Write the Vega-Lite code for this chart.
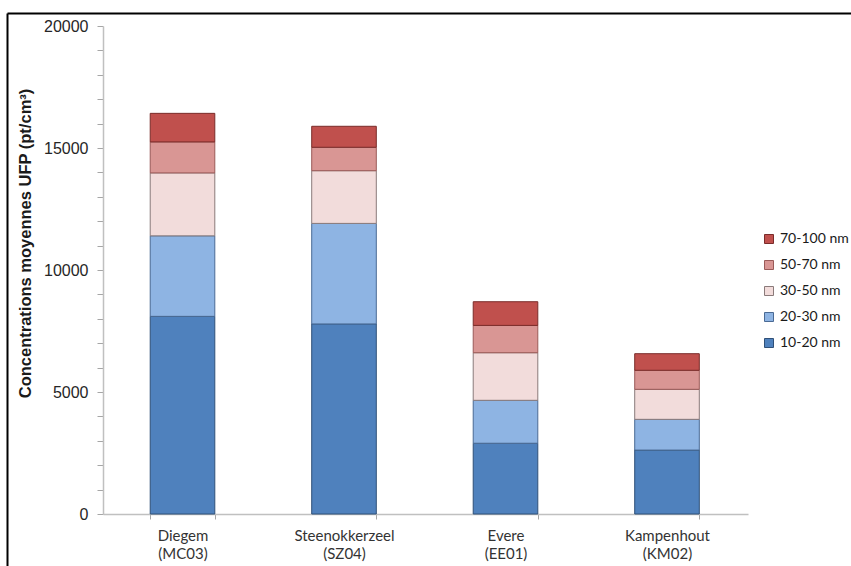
{
  "$schema": "https://vega.github.io/schema/vega-lite/v6.json",
  "width": 844,
  "height": 553,
  "autosize": {"type": "none"},
  "padding": {"left": 7, "top": 13, "right": 0, "bottom": 0},
  "background": "white",
  "config": {
    "view": {"stroke": null},
    "axis": {"grid": false}
  },
  "data": {
    "values": [
      {"site": "Diegem (MC03)", "size": "10-20 nm", "value": 8100},
      {"site": "Diegem (MC03)", "size": "20-30 nm", "value": 3300},
      {"site": "Diegem (MC03)", "size": "30-50 nm", "value": 2580},
      {"site": "Diegem (MC03)", "size": "50-70 nm", "value": 1270},
      {"site": "Diegem (MC03)", "size": "70-100 nm", "value": 1170},
      {"site": "Steenokkerzeel (SZ04)", "size": "10-20 nm", "value": 7790},
      {"site": "Steenokkerzeel (SZ04)", "size": "20-30 nm", "value": 4120},
      {"site": "Steenokkerzeel (SZ04)", "size": "30-50 nm", "value": 2160},
      {"site": "Steenokkerzeel (SZ04)", "size": "50-70 nm", "value": 960},
      {"site": "Steenokkerzeel (SZ04)", "size": "70-100 nm", "value": 860},
      {"site": "Evere (EE01)", "size": "10-20 nm", "value": 2900},
      {"site": "Evere (EE01)", "size": "20-30 nm", "value": 1760},
      {"site": "Evere (EE01)", "size": "30-50 nm", "value": 1950},
      {"site": "Evere (EE01)", "size": "50-70 nm", "value": 1120},
      {"site": "Evere (EE01)", "size": "70-100 nm", "value": 970},
      {"site": "Kampenhout (KM02)", "size": "10-20 nm", "value": 2620},
      {"site": "Kampenhout (KM02)", "size": "20-30 nm", "value": 1260},
      {"site": "Kampenhout (KM02)", "size": "30-50 nm", "value": 1230},
      {"site": "Kampenhout (KM02)", "size": "50-70 nm", "value": 780},
      {"site": "Kampenhout (KM02)", "size": "70-100 nm", "value": 680}
    ]
  },
  "resolve": {"axis": {"x": "independent", "y": "independent"}},
  "layer": [
    {
      "mark": {"type": "bar", "strokeWidth": 1},
      "encoding": {
        "x": {
          "field": "site",
          "type": "nominal",
          "sort": null,
          "scale": {"paddingInner": 0.6, "paddingOuter": 0.913, "align": 0.4856, "round": false},
          "axis": {
            "orient": "bottom",
            "offset": -52,
            "title": null,
            "labelAngle": 0,
            "labelExpr": "split(datum.label, ' ')",
            "labelFont": "Lato",
            "labelFontSize": 15,
            "labelLineHeight": 18,
            "labelColor": "#333333",
            "labelPadding": 9,
            "tickBand": "extent",
            "tickSize": 5,
            "tickColor": "#a6a6a6",
            "domainColor": "#c0c0c0",
            "domainWidth": 1.5,
            "domainDash": [645, 2000],
            "domainDashOffset": 2549
          }
        },
        "y": {
          "field": "value",
          "type": "quantitative",
          "stack": "zero",
          "scale": {"domain": [-2131, 20533], "nice": false, "zero": false},
          "axis": {
            "orient": "left",
            "offset": -96,
            "values": [0, 1000, 2000, 3000, 4000, 5000, 6000, 7000, 8000, 9000, 10000, 11000, 12000, 13000, 14000, 15000, 16000, 17000, 18000, 19000, 20000],
            "format": "d",
            "labelExpr": "datum.value % 5000 === 0 ? datum.label : ''",
            "labelFont": "Liberation Sans",
            "labelFontSize": 16,
            "labelColor": "#262626",
            "labelPadding": 9,
            "tickSize": 6,
            "tickColor": "#a6a6a6",
            "domainColor": "#c0c0c0",
            "domainWidth": 1.5,
            "domainDash": [488, 2000],
            "domainDashOffset": 2436,
            "title": "Concentrations moyennes UFP (pt/cm³)",
            "titleFont": "Liberation Sans",
            "titleFontSize": 16.5,
            "titleFontWeight": "bold",
            "titleColor": "#1a1a1a",
            "titleAngle": 270,
            "titleAlign": "center",
            "titleBaseline": "middle",
            "titleX": -77.5,
            "titleY": 230
          }
        },
        "color": {
          "field": "size",
          "type": "nominal",
          "sort": ["10-20 nm", "20-30 nm", "30-50 nm", "50-70 nm", "70-100 nm"],
          "scale": {
            "domain": ["10-20 nm", "20-30 nm", "30-50 nm", "50-70 nm", "70-100 nm"],
            "range": ["#4f81bd", "#8eb4e3", "#f2dcdb", "#d99694", "#c0504d"]
          },
          "legend": {
            "orient": "none",
            "legendX": 755,
            "legendY": 219,
            "title": null,
            "values": ["70-100 nm", "50-70 nm", "30-50 nm", "20-30 nm", "10-20 nm"],
            "symbolType": "square",
            "symbolSize": 81,
            "symbolStrokeColor": "#5a5a5a",
            "symbolStrokeWidth": 1,
            "labelFont": "Lato",
            "labelFontSize": 14,
            "labelColor": "#1a1a1a",
            "labelOffset": 4,
            "rowPadding": 12,
            "padding": 0
          }
        },
        "stroke": {
          "field": "size",
          "type": "nominal",
          "scale": {
            "domain": ["10-20 nm", "20-30 nm", "30-50 nm", "50-70 nm", "70-100 nm"],
            "range": ["#2f5078", "#4a6a94", "#8a7a7a", "#9a5a58", "#7a2c2a"]
          },
          "legend": null
        },
        "order": {"field": "size", "sort": "ascending"}
      }
    },
    {
      "mark": {"type": "point", "opacity": 0},
      "encoding": {
        "x": {
          "field": "site",
          "type": "nominal",
          "sort": null,
          "axis": {"orient": "top", "title": null, "labels": false, "ticks": false, "domainColor": "black", "domainWidth": 2}
        },
        "y": {
          "field": "value",
          "type": "quantitative",
          "axis": {"orient": "left", "offset": 0, "title": null, "labels": false, "ticks": false, "domainColor": "black", "domainWidth": 2}
        }
      }
    }
  ]
}
